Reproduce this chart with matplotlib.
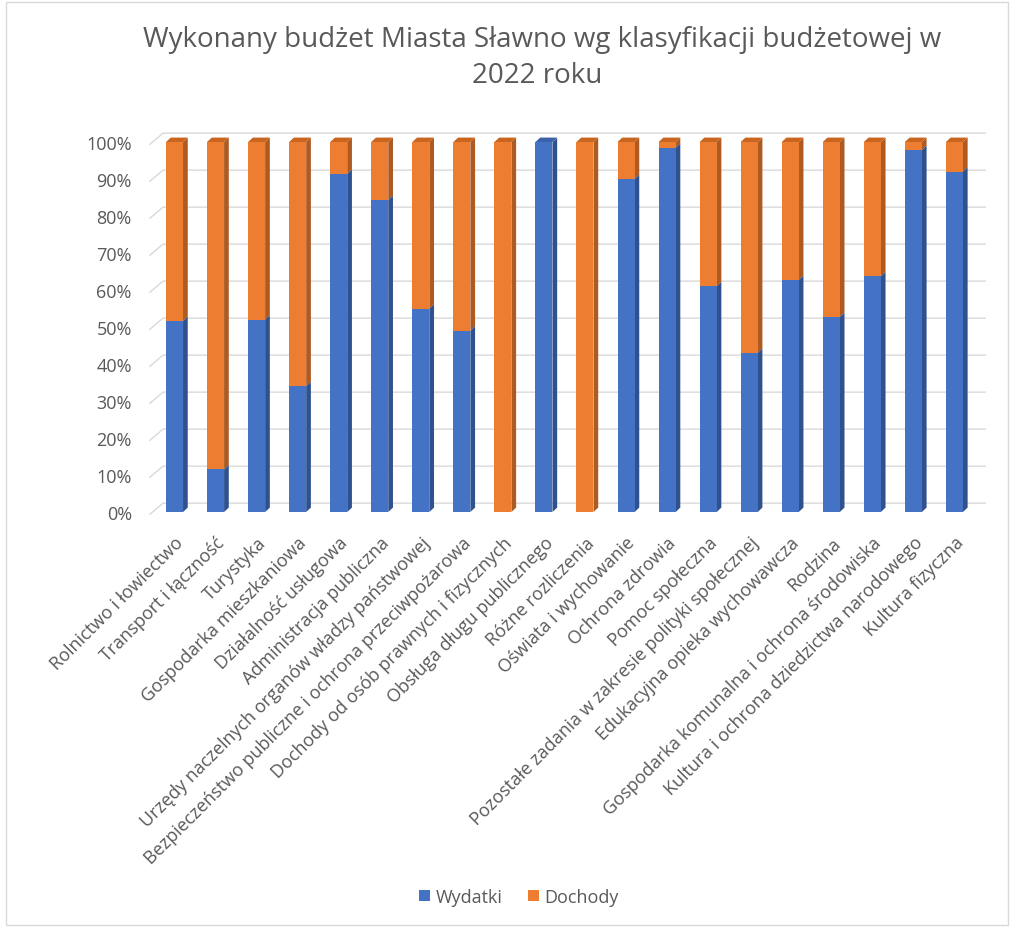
import numpy as np
import matplotlib.pyplot as plt
from matplotlib.patches import Polygon, Rectangle

# Categories and share of expenditures (Wydatki) in %, rest is Dochody
categories = [
    "Rolnictwo i łowiectwo", "Transport i łączność", "Turystyka",
    "Gospodarka mieszkaniowa", "Działalność usługowa", "Administracja publiczna",
    "Urzędy naczelnych organów władzy państwowej",
    "Bezpieczeństwo publiczne i ochrona przeciwpożarowa",
    "Dochody od osób prawnych i fizycznych", "Obsługa długu publicznego",
    "Różne rozliczenia", "Oświata i wychowanie", "Ochrona zdrowia",
    "Pomoc społeczna", "Pozostałe zadania w zakresie polityki społecznej",
    "Edukacyjna opieka wychowawcza", "Rodzina",
    "Gospodarka komunalna i ochrona środowiska",
    "Kultura i ochrona dziedzictwa narodowego", "Kultura fizyczna",
]
wydatki = [51.6, 11.5, 52.0, 34.0, 91.4, 84.3, 55.0, 49.0, 0.0, 99.9,
           0.0, 90.0, 98.4, 61.0, 43.0, 62.7, 52.7, 63.7, 97.8, 92.0]
dochody = [100 - v for v in wydatki]
series_names = ["Wydatki", "Dochody"]
yticks = [0, 10, 20, 30, 40, 50, 60, 70, 80, 90, 100]

c_blue, c_orange = "#4472C4", "#ED7D31"
s_blue, s_orange = "#2F528F", "#AE5A21"
t_blue, t_orange = "#3A62A8", "#C9651F"
txt = "#595959"

plt.rcParams['font.family'] = ['Open Sans', 'DejaVu Sans']

fig = plt.figure(figsize=(10.14, 9.29), dpi=100)
W, H = 1014, 929
ax = fig.add_axes([149.9 / W, 0.4398, (985.2 - 149.9) / W, 0.4182])
ax.set_xlim(-0.6, 19.75)
ax.set_ylim(-2, 103)

x = np.arange(len(categories))
bw = 0.414
hw = bw / 2
dx, dy = 0.115, 1.2

# back wall gridlines with small side-wall diagonal
gdy = 2.4
for t in yticks:
    ax.plot([-0.6, -0.28, 19.75], [t - 0.6, t + gdy, t + gdy],
            color="#d9d9d9", lw=1.0, zorder=0, clip_on=False)

wyd = np.array(wydatki)
doc = np.array(dochody)
ax.bar(x, wyd, width=bw, color=c_blue, zorder=3, label=series_names[0])
ax.bar(x, doc, width=bw, bottom=wyd, color=c_orange, zorder=3,
       label=series_names[1])

# depth faces computed from data
for xi, w in zip(x, wyd):
    r = xi + hw
    if w < 100:
        ax.add_patch(Polygon([(r, w), (r + dx, w + dy), (r + dx, 100 + dy), (r, 100)],
                             closed=True, color=s_orange, zorder=2, lw=0))
    if w > 0:
        ax.add_patch(Polygon([(r, 0), (r + dx, dy), (r + dx, w + dy), (r, w)],
                             closed=True, color=s_blue, zorder=2.5, lw=0))
    top_c = t_blue if w >= 99.5 else t_orange
    ax.add_patch(Polygon([(xi - hw, 100), (r, 100), (r + dx, 100 + dy),
                          (xi - hw + dx, 100 + dy)],
                         closed=True, color=top_c, zorder=2, lw=0))

ax.set_yticks(yticks)
ax.set_yticklabels([f"{t}%" for t in yticks], color=txt, fontsize=13)
ax.set_xticks(x)
ax.set_xticklabels(categories, rotation=45, ha="right", rotation_mode="anchor",
                   color=txt, fontsize=13)
ax.tick_params(length=0, pad=10)
ax.tick_params(axis="y", pad=13)
for s in ax.spines.values():
    s.set_visible(False)

fig.text(542 / W, 1 - 40 / H,
         "Wykonany budżet Miasta Sławno wg klasyfikacji budżetowej w",
         ha="center", va="center", fontsize=20, color=txt)
fig.text(537 / W, 1 - 76 / H, "2022 roku",
         ha="center", va="center", fontsize=20, color=txt)

fig.legend(loc="center", bbox_to_anchor=(519 / W, 1 - 898 / H), ncol=2,
           frameon=False, fontsize=13, handlelength=0.6, handleheight=0.6,
           columnspacing=1.4, handletextpad=0.3, labelcolor=txt)

fig.patches.append(Rectangle((6 / W, 3 / H), 1 - 12 / W, 1 - 6 / H,
                             transform=fig.transFigure, fill=False,
                             edgecolor="#d9d9d9", lw=1))

fig.savefig("out.png", dpi=100)
